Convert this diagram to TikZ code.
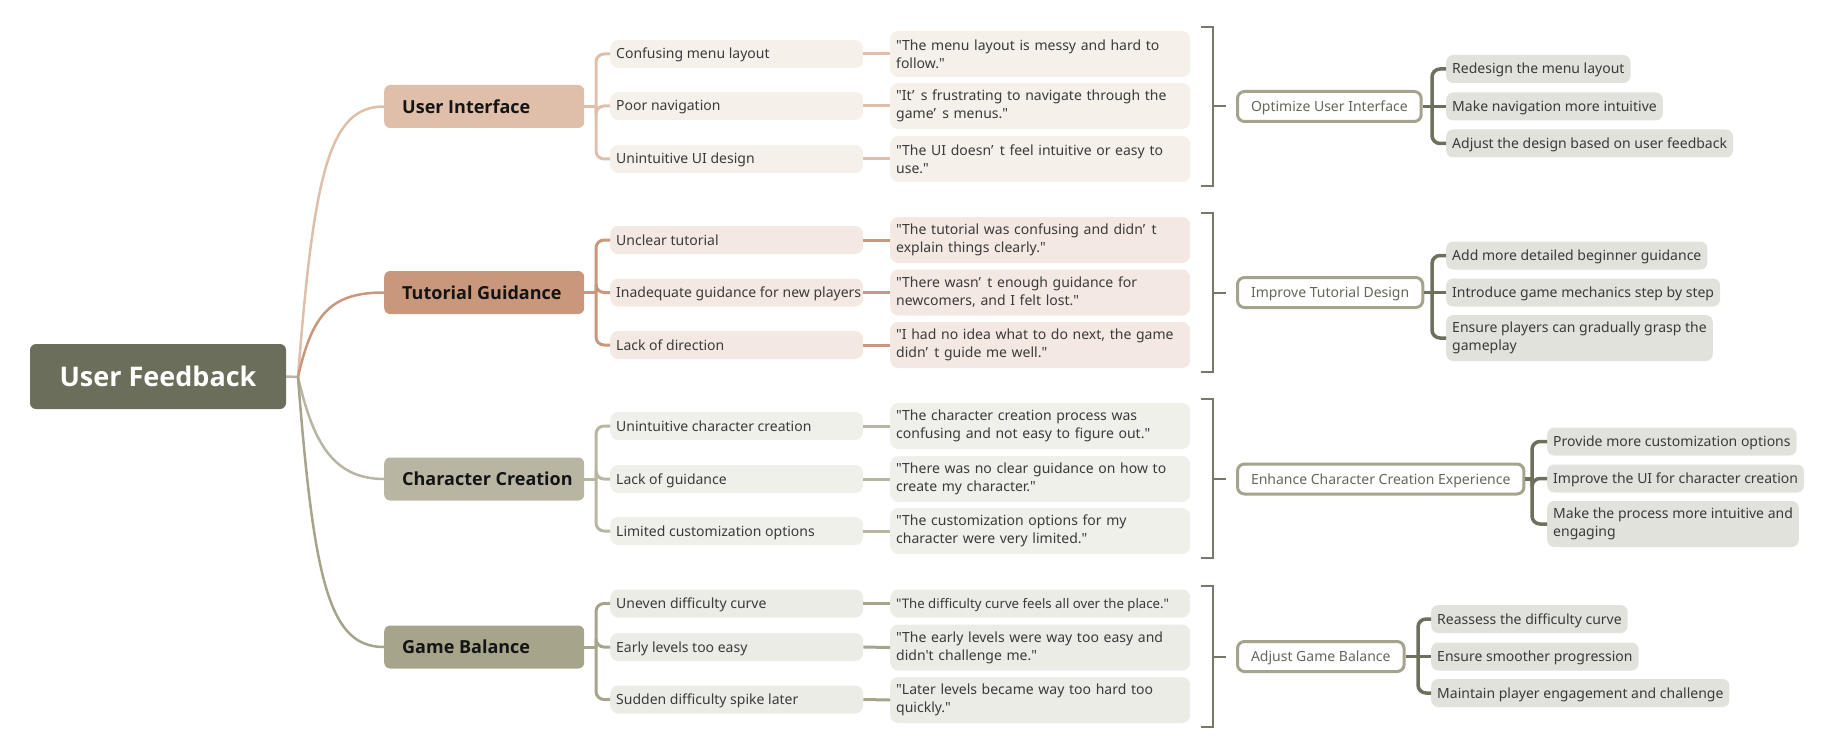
\documentclass[tikz,border=0pt]{standalone}
\usepackage{fontspec}
\setmainfont{Noto Sans}[Ligatures=TeXOff]
\newfontfamily\bfam{Open Sans}
\definecolor{rootc}{HTML}{6B6E5B}
\definecolor{uic}{HTML}{DFBFA9}
\definecolor{uil}{HTML}{F6F0EB}
\definecolor{tgc}{HTML}{C9977B}
\definecolor{tgl}{HTML}{F4E9E2}
\definecolor{ccc}{HTML}{B8B6A2}
\definecolor{ccl}{HTML}{F0F0EB}
\definecolor{gbc}{HTML}{A6A48B}
\definecolor{gbl}{HTML}{ECECE6}
\definecolor{brk}{HTML}{77776A}
\definecolor{sumb}{HTML}{A4A38C}
\definecolor{sumt}{HTML}{66665A}
\definecolor{solt}{HTML}{6E705D}
\definecolor{solf}{HTML}{E2E2DD}
\definecolor{txt}{HTML}{3A3A3A}
\newcommand\qap{’\hspace{0.45em}}
\newcommand\bl[1]{\makebox[164pt][l]{#1}}
\newcommand\cl[1]{\makebox[241pt][l]{#1}}
\tikzset{
 rootbox/.style={fill=rootc, rounded corners=6pt, text=white, font=\bfam\bfseries\fontsize{27}{32}\selectfont, minimum width=256pt, minimum height=65pt, inner sep=0pt},
 branchbox/.style={rounded corners=6pt, anchor=west, font=\bfam\bfseries\fontsize{18}{22}\selectfont, text=black!92, inner xsep=18pt, inner ysep=0pt, minimum height=43pt},
 oneline/.style={text height=13pt, text depth=3pt},
 childbox/.style={rounded corners=8pt, anchor=west, font=\fontsize{14}{18}\selectfont, text=txt, inner xsep=6pt, inner ysep=0pt, minimum height=28pt},
 quotebox/.style={childbox, text width=288pt, minimum height=46pt, align=left},
 sumbox/.style={draw=sumb, line width=3pt, fill=white, rounded corners=7pt, anchor=west, font=\fontsize{14}{18}\selectfont, text=sumt, inner xsep=13.5pt, inner ysep=0pt, minimum height=30pt, oneline},
 solbox/.style={fill=solf, rounded corners=7pt, anchor=west, font=\fontsize{14}{18}\selectfont, text=txt, inner xsep=6pt, inner ysep=0pt, minimum height=28pt, align=left},
 rootline/.style={line width=2.5pt},
 trunk/.style={line width=3pt, rounded corners=8pt},
 bracket/.style={draw=brk, line width=2pt},
 soltrunk/.style={draw=solt, line width=3.5pt, rounded corners=8pt},
}
\begin{document}
\begin{tikzpicture}[x=1pt,y=-1pt]
\useasboundingbox (0,0) rectangle (1827,754);
% root
\node[rootbox] (root) at (158,376.5) {User Feedback};
\coordinate (rj) at (298,377);
% branches
\node[branchbox, fill=uic] (ui) at (384,106.5) {\bl{User Interface}};
\node[branchbox, fill=tgc] (tg) at (384,292.5) {\bl{Tutorial Guidance}};
\node[branchbox, fill=ccc] (cc) at (384,479) {\bl{Character Creation}};
\node[branchbox, fill=gbc] (gb) at (384,647) {\bl{Game Balance}};
\draw[rootline, draw=ccc] (root.east) -- (rj);
\draw[rootline, draw=uic] (rj) .. controls (314,170) and (330,106.5) .. (ui.west);
\draw[rootline, draw=tgc] (rj) .. controls (312,315) and (330,292.5) .. (tg.west);
\draw[rootline, draw=ccc] (rj) .. controls (312,437) and (330,479) .. (cc.west);
\draw[rootline, draw=gbc] (rj) .. controls (314,585) and (330,647) .. (gb.west);
% ---------- User Interface
\node[childbox, oneline, fill=uil] (ui1) at (610,54) {\cl{Confusing menu layout}};
\node[childbox, oneline, fill=uil] (ui2) at (610,106) {\cl{Poor navigation}};
\node[childbox, oneline, fill=uil] (ui3) at (610,159) {\cl{Unintuitive UI design}};
\node[quotebox, fill=uil] (uq1) at (890,54) {"The menu layout is messy and hard to\\follow."};
\node[quotebox, fill=uil] (uq2) at (890,106) {"It\qap s frustrating to navigate through the\\game\qap s menus."};
\node[quotebox, fill=uil] (uq3) at (890,159) {"The UI doesn\qap t feel intuitive or easy to\\use."};
\coordinate (uiT) at (596,106.5);
\draw[trunk, draw=uic] (ui.east) -- (uiT);
\draw[trunk, draw=uic] (ui1.west) -| (uiT) |- (ui3.west);
\draw[trunk, draw=uic] (uiT) |- (ui2.west);
\foreach \i in {1,2,3}{\draw[line width=3pt, draw=uic] (ui\i.east) -- (uq\i.west);}
% ---------- Tutorial Guidance
\node[childbox, oneline, fill=tgl] (tg1) at (610,240) {\cl{Unclear tutorial}};
\node[childbox, oneline, fill=tgl] (tg2) at (610,292.5) {\cl{Inadequate guidance for new players}};
\node[childbox, oneline, fill=tgl] (tg3) at (610,345) {\cl{Lack of direction}};
\node[quotebox, fill=tgl] (tq1) at (890,240) {"The tutorial was confusing and didn\qap t\\explain things clearly."};
\node[quotebox, fill=tgl] (tq2) at (890,292.5) {"There wasn\qap t enough guidance for\\newcomers, and I felt lost."};
\node[quotebox, fill=tgl] (tq3) at (890,345) {"I had no idea what to do next, the game\\didn\qap t guide me well."};
\coordinate (tgT) at (596,292.5);
\draw[trunk, draw=tgc] (tg.east) -- (tgT);
\draw[trunk, draw=tgc] (tg1.west) -| (tgT) |- (tg3.west);
\draw[trunk, draw=tgc] (tgT) |- (tg2.west);
\foreach \i in {1,2,3}{\draw[line width=3pt, draw=tgc] (tg\i.east) -- (tq\i.west);}
% ---------- Character Creation
\node[childbox, oneline, fill=ccl] (cc1) at (610,426) {\cl{Unintuitive character creation}};
\node[childbox, oneline, fill=ccl] (cc2) at (610,479) {\cl{Lack of guidance}};
\node[childbox, oneline, fill=ccl] (cc3) at (610,531) {\cl{Limited customization options}};
\node[quotebox, fill=ccl] (cq1) at (890,426) {"The character creation process was\\confusing and not easy to figure out."};
\node[quotebox, fill=ccl] (cq2) at (890,479) {"There was no clear guidance on how to\\create my character."};
\node[quotebox, fill=ccl] (cq3) at (890,531) {"The customization options for my\\character were very limited."};
\coordinate (ccT) at (596,479);
\draw[trunk, draw=ccc] (cc.east) -- (ccT);
\draw[trunk, draw=ccc] (cc1.west) -| (ccT) |- (cc3.west);
\draw[trunk, draw=ccc] (ccT) |- (cc2.west);
\foreach \i in {1,2,3}{\draw[line width=3pt, draw=ccc] (cc\i.east) -- (cq\i.west);}
% ---------- Game Balance
\node[childbox, oneline, fill=gbl] (gb1) at (610,603.5) {\cl{Uneven difficulty curve}};
\node[childbox, oneline, fill=gbl] (gb2) at (610,647) {\cl{Early levels too easy}};
\node[childbox, oneline, fill=gbl] (gb3) at (610,699.5) {\cl{Sudden difficulty spike later}};
\node[childbox, oneline, fill=gbl] (gq1) at (890,603.5) {\makebox[288pt][l]{\fontsize{13.2}{18}\selectfont"The difficulty curve feels all over the place."}};
\node[quotebox, fill=gbl] (gq2) at (890,647.5) {"The early levels were way too easy and\\didn't challenge me."};
\node[quotebox, fill=gbl] (gq3) at (890,700) {"Later levels became way too hard too\\quickly."};
\coordinate (gbT) at (596,647);
\draw[trunk, draw=gbc] (gb.east) -- (gbT);
\draw[trunk, draw=gbc] (gb1.west) -| (gbT) |- (gb3.west);
\draw[trunk, draw=gbc] (gbT) |- (gb2.west);
\foreach \i in {1,2,3}{\draw[line width=3pt, draw=gbc] (gb\i.east) -- (gq\i.west);}
% ---------- brackets
\draw[bracket] (1201,27) -| (1213,186) -- (1201,186);
\draw[bracket] (1201,213) -| (1213,372) -- (1201,372);
\draw[bracket] (1201,399) -| (1213,558) -- (1201,558);
\draw[bracket] (1201,586) -| (1213,727) -- (1201,727);
\coordinate (ub) at (1213,106.5); \coordinate (ube) at (1226,106.5);
\coordinate (tb) at (1213,292.5); \coordinate (tbe) at (1226,292.5);
\coordinate (cb) at (1213,478.5); \coordinate (cbe) at (1226,478.5);
\coordinate (gbb) at (1213,656.5); \coordinate (gbe) at (1226,656.5);
\draw[bracket] (ub) -- (ube);
\draw[bracket] (tb) -- (tbe);
\draw[bracket] (cb) -- (cbe);
\draw[bracket] (gbb) -- (gbe);
% ---------- summaries
\node[sumbox] (us) at (1236,106.5) {Optimize User Interface};
\node[sumbox] (ts) at (1236,292.5) {Improve Tutorial Design};
\node[sumbox] (cs) at (1236,479) {Enhance Character Creation Experience};
\node[sumbox] (gs) at (1236,656.5) {Adjust Game Balance};
% ---------- solutions UI
\node[solbox, oneline] (us1) at (1446,69) {Redesign the menu layout};
\node[solbox, oneline] (us2) at (1446,106.5) {Make navigation more intuitive};
\node[solbox, oneline] (us3) at (1446,143.5) {Adjust the design based on user feedback};
\coordinate (usT) at (1432,106.5);
\draw[soltrunk] (us.east) -- (usT);
\draw[soltrunk] (us1.west) -| (usT) |- (us3.west);
\draw[soltrunk] (usT) -- (us2.west);
% solutions tutorial
\node[solbox, oneline] (ts1) at (1446,255.5) {Add more detailed beginner guidance};
\node[solbox, oneline] (ts2) at (1446,292.5) {Introduce game mechanics step by step};
\node[solbox, minimum height=46pt] (ts3) at (1446,338) {Ensure players can gradually grasp the\\gameplay};
\coordinate (tsT) at (1432,292.5);
\draw[soltrunk] (ts.east) -- (tsT);
\draw[soltrunk] (ts1.west) -| (tsT) |- (ts3.west);
\draw[soltrunk] (tsT) -- (ts2.west);
% solutions character
\node[solbox, oneline] (cs1) at (1547,441.5) {Provide more customization options};
\node[solbox, oneline] (cs2) at (1547,478.5) {Improve the UI for character creation};
\node[solbox, minimum height=46pt] (cs3) at (1547,524) {Make the process more intuitive and\\engaging};
\coordinate (csT) at (1532,479);
\draw[soltrunk] (cs.east) -- (csT);
\draw[soltrunk] (cs1.west) -| (csT) |- (cs3.west);
\draw[soltrunk] (csT) |- (cs2.west);
% solutions game
\node[solbox, oneline] (gs1) at (1431,619) {Reassess the difficulty curve};
\node[solbox, oneline] (gs2) at (1431,656.5) {Ensure smoother progression};
\node[solbox, oneline] (gs3) at (1431,693) {Maintain player engagement and challenge};
\coordinate (gsT) at (1418,656.5);
\draw[soltrunk] (gs.east) -- (gsT);
\draw[soltrunk] (gs1.west) -| (gsT) |- (gs3.west);
\draw[soltrunk] (gsT) -- (gs2.west);
\end{tikzpicture}
\end{document}
